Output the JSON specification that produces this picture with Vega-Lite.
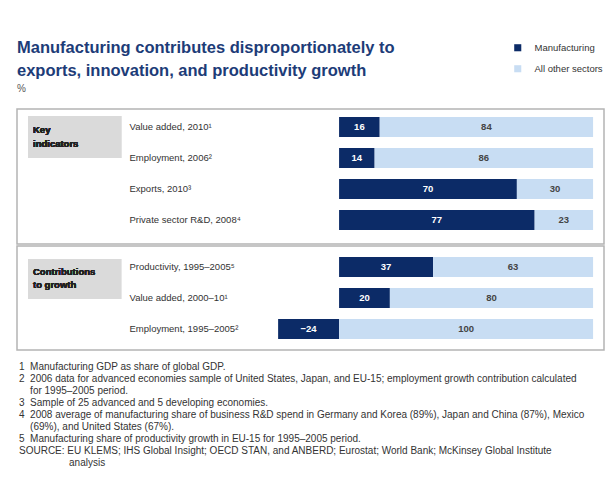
{
  "$schema": "https://vega.github.io/schema/vega-lite/v6.json",
  "padding": {"left": 16, "top": 39, "right": 11, "bottom": 0},
  "background": "white",
  "title": {
    "text": ["Manufacturing contributes disproportionately to", "exports, innovation, and productivity growth"],
    "subtitle": "%",
    "anchor": "start",
    "frame": "group",
    "font": "Liberation Sans",
    "fontSize": 16.5,
    "fontWeight": "bold",
    "color": "#1d3c78",
    "lineHeight": 23,
    "subtitleFont": "Liberation Sans",
    "subtitleFontSize": 10,
    "subtitleColor": "#555555",
    "subtitlePadding": 5,
    "offset": -51
  },
  "datasets": {
    "bars": [
      {"section": "Key indicators", "indicator": "Value added, 2010¹", "sector": "Manufacturing", "value": 16},
      {"section": "Key indicators", "indicator": "Value added, 2010¹", "sector": "All other sectors", "value": 84},
      {"section": "Key indicators", "indicator": "Employment, 2006²", "sector": "Manufacturing", "value": 14},
      {"section": "Key indicators", "indicator": "Employment, 2006²", "sector": "All other sectors", "value": 86},
      {"section": "Key indicators", "indicator": "Exports, 2010³", "sector": "Manufacturing", "value": 70},
      {"section": "Key indicators", "indicator": "Exports, 2010³", "sector": "All other sectors", "value": 30},
      {"section": "Key indicators", "indicator": "Private sector R&D, 2008⁴", "sector": "Manufacturing", "value": 77},
      {"section": "Key indicators", "indicator": "Private sector R&D, 2008⁴", "sector": "All other sectors", "value": 23},
      {"section": "Contributions to growth", "indicator": "Productivity, 1995–2005⁵", "sector": "Manufacturing", "value": 37},
      {"section": "Contributions to growth", "indicator": "Productivity, 1995–2005⁵", "sector": "All other sectors", "value": 63},
      {"section": "Contributions to growth", "indicator": "Value added, 2000–10¹", "sector": "Manufacturing", "value": 20},
      {"section": "Contributions to growth", "indicator": "Value added, 2000–10¹", "sector": "All other sectors", "value": 80},
      {"section": "Contributions to growth", "indicator": "Employment, 1995–2005²", "sector": "Manufacturing", "value": -24},
      {"section": "Contributions to growth", "indicator": "Employment, 1995–2005²", "sector": "All other sectors", "value": 100}
    ]
  },
  "spacing": 0,
  "resolve": {"scale": {"y": "independent"}},
  "vconcat": [
    {
      "width": 587,
      "height": 135,
      "data": {"name": "bars"},
      "transform": [
        {"filter": "datum.section === 'Key indicators'"},
        {"stack": "value", "groupby": ["indicator"], "sort": [{"field": "sector", "order": "descending"}], "as": ["x0", "x1"]},
        {"calculate": "(datum.x0 + datum.x1) / 2", "as": "mid"}
      ],
      "encoding": {
        "y": {"field": "indicator", "type": "nominal", "sort": null,
          "scale": {"paddingInner": 0.35, "paddingOuter": 0.35, "align": 0.36},
          "axis": {"title": null, "domain": false, "ticks": false, "tickSize": 0, "labelAlign": "left", "labelPadding": -112, "labelFont": "Liberation Sans", "labelFontSize": 9.5, "labelColor": "#333333"}}
      },
      "layer": [
        {
          "mark": {"type": "rect", "color": "#dadada", "height": 42, "yOffset": 10},
          "encoding": {"x": {"datum": -122.4, "type": "quantitative", "scale": {"domain": [-126.8, 104.3], "nice": false}, "axis": null}, "x2": {"datum": -85.8}, "y": {"datum": "Value added, 2010¹"}}
        },
        {
          "mark": {"type": "text", "align": "left", "baseline": "top", "font": "Liberation Sans", "fontSize": 9.5, "fontWeight": "bold", "color": "#222222", "lineHeight": 14, "yOffset": -2},
          "encoding": {"x": {"datum": -120.5, "type": "quantitative"}, "y": {"datum": "Value added, 2010¹"}, "text": {"value": ["Key", "indicators"]}}
        },
        {
          "mark": {"type": "bar", "height": 20},
          "encoding": {
            "x": {"field": "x0", "type": "quantitative"},
            "x2": {"field": "x1"},
            "color": {"field": "sector", "type": "nominal",
              "scale": {"domain": ["Manufacturing", "All other sectors"], "range": ["#0c2b67", "#c8ddf3"]},
              "legend": {"title": null, "orient": "none", "legendX": 496, "legendY": -66, "symbolType": "square", "symbolSize": 50, "symbolStrokeWidth": 0, "labelOffset": 12, "labelFont": "Liberation Sans", "labelFontSize": 9.5, "labelColor": "#333333", "rowPadding": 10}}
          }
        },
        {
          "mark": {"type": "text", "font": "Liberation Sans", "fontSize": 9.5, "fontWeight": "bold"},
          "encoding": {
            "x": {"field": "mid", "type": "quantitative"},
            "text": {"field": "value", "type": "quantitative"},
            "color": {"condition": {"test": "datum.sector === 'Manufacturing'", "value": "white"}, "value": "#444444"}
          }
        },
        {
          "mark": {"type": "rule", "color": "#333333", "strokeWidth": 1.5},
          "encoding": {"x": {"datum": 0, "type": "quantitative"}}
        }
      ]
    },
    {
      "width": 587,
      "height": 104,
      "title": {
        "text": [
          "1\u00a0\u00a0Manufacturing GDP as share of global GDP.",
          "2\u00a0\u00a02006 data for advanced economies sample of United States, Japan, and EU-15; employment growth contribution calculated",
          "\u200b\u00a0\u00a0\u00a0\u00a0for 1995–2005 period.",
          "3\u00a0\u00a0Sample of 25 advanced and 5 developing economies.",
          "4\u00a0\u00a02008 average of manufacturing share of business R&D spend in Germany and Korea (89%), Japan and China (87%), Mexico",
          "\u200b\u00a0\u00a0\u00a0\u00a0(69%), and United States (67%).",
          "5\u00a0\u00a0Manufacturing share of productivity growth in EU-15 for 1995–2005 period.",
          "SOURCE: EU KLEMS; IHS Global Insight; OECD STAN, and ANBERD; Eurostat; World Bank; McKinsey Global Institute",
          "\u200b\u00a0\u00a0\u00a0\u00a0\u00a0\u00a0\u00a0\u00a0\u00a0\u00a0\u00a0\u00a0\u00a0\u00a0\u00a0\u00a0\u00a0\u00a0analysis"
        ],
        "orient": "bottom",
        "anchor": "start",
        "frame": "group",
        "dx": 2,
        "font": "Liberation Sans",
        "fontSize": 10,
        "fontWeight": "normal",
        "color": "#333333",
        "lineHeight": 12,
        "offset": 12
      },
      "data": {"name": "bars"},
      "transform": [
        {"filter": "datum.section === 'Contributions to growth'"},
        {"stack": "value", "groupby": ["indicator"], "sort": [{"field": "sector", "order": "descending"}], "as": ["x0", "x1"]},
        {"calculate": "(datum.x0 + datum.x1) / 2", "as": "mid"}
      ],
      "encoding": {
        "y": {"field": "indicator", "type": "nominal", "sort": null,
          "scale": {"paddingInner": 0.35, "paddingOuter": 0.35, "align": 0.5},
          "axis": {"title": null, "domain": false, "ticks": false, "tickSize": 0, "labelAlign": "left", "labelPadding": -112, "labelFont": "Liberation Sans", "labelFontSize": 9.5, "labelColor": "#333333"}}
      },
      "layer": [
        {
          "mark": {"type": "rect", "color": "#dadada", "height": 40, "yOffset": 12},
          "encoding": {"x": {"datum": -122.4, "type": "quantitative", "scale": {"domain": [-126.8, 104.3], "nice": false}, "axis": null}, "x2": {"datum": -85.8}, "y": {"datum": "Productivity, 1995–2005⁵"}}
        },
        {
          "mark": {"type": "text", "align": "left", "baseline": "top", "font": "Liberation Sans", "fontSize": 9.5, "fontWeight": "bold", "color": "#222222", "lineHeight": 13, "yOffset": 0},
          "encoding": {"x": {"datum": -120.5, "type": "quantitative"}, "y": {"datum": "Productivity, 1995–2005⁵"}, "text": {"value": ["Contributions", "to growth"]}}
        },
        {
          "mark": {"type": "bar", "height": 20},
          "encoding": {
            "x": {"field": "x0", "type": "quantitative"},
            "x2": {"field": "x1"},
            "color": {"field": "sector", "type": "nominal"}
          }
        },
        {
          "mark": {"type": "text", "font": "Liberation Sans", "fontSize": 9.5, "fontWeight": "bold"},
          "encoding": {
            "x": {"field": "mid", "type": "quantitative"},
            "text": {"field": "value", "type": "quantitative"},
            "color": {"condition": {"test": "datum.sector === 'Manufacturing'", "value": "white"}, "value": "#444444"}
          }
        },
        {
          "mark": {"type": "rule", "color": "#333333", "strokeWidth": 1.5},
          "encoding": {"x": {"datum": 0, "type": "quantitative"}}
        }
      ]
    }
  ],
  "config": {
    "view": {"stroke": "#b4b4b4", "strokeWidth": 1.5}
  }
}
